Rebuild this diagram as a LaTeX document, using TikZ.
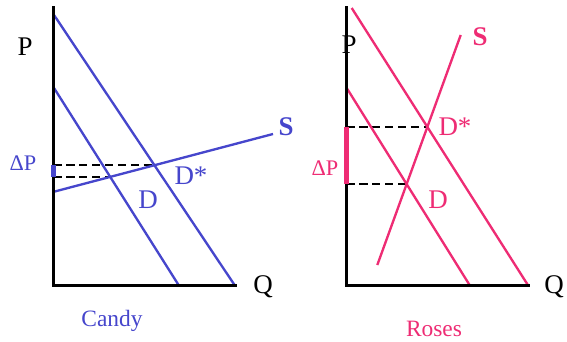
\documentclass[tikz,border=0pt]{standalone}
\usepackage{fontspec}
\setmainfont{Liberation Serif}
\usepackage{tikz}
\usetikzlibrary{
    calc
}
\definecolor{candyblue}{HTML}{4646CC}
\definecolor{rosepink}{HTML}{EE2C74}
\tikzset{
    axis line/.style={
        line width=2.6pt, black, line cap=rect
    },
    curve/.style={
        line width=2pt, color=#1
    },
    curve/.default={black},
    level line/.style={
        line width=2pt, black, dash pattern=on 7pt off 4pt
    },
    delta bar/.style={
        line width=4pt, color=#1
    },
    axis label/.style={
        font=\fontsize{23}{25}\selectfont, text=black, inner sep=0pt
    },
    curve label/.style={
        font=\fontsize{23}{25}\selectfont, text=#1, inner sep=0pt
    },
    delta label/.style={
        font=\fontsize{19}{21}\selectfont, text=#1, inner sep=0pt
    },
}
\begin{document}
\begin{tikzpicture}[x=0.03cm, y=-0.03cm]
    \useasboundingbox (0,0) rectangle (567,342);

    % Candy: flat supply
    \coordinate (cO) at (53.5,285.7);
    \coordinate (cTop) at (53.5,8);
    \coordinate (cEnd) at (235,285.7);
    \coordinate (cDsA) at (54,15);
    \coordinate (cDsB) at (235,285.7);
    \coordinate (cDA) at (54,88);
    \coordinate (cDB) at (179,285.7);
    \coordinate (cSA) at (54,191.7);
    \coordinate (cSB) at (273,134);
    \coordinate (cHi) at (intersection of cDsA--cDsB and cSA--cSB);
    \coordinate (cLo) at (intersection of cDA--cDB and cSA--cSB);

    \draw[level line] (cO |- cHi) -- (cHi);
    \draw[level line] (cO |- cLo) -- (cLo);
    \draw[curve=candyblue] (cDsA) -- (cDsB);
    \draw[curve=candyblue] (cDA) -- (cDB);
    \draw[curve=candyblue] (cSA) -- (cSB);
    \draw[axis line] (cTop) -- (cO) -- (cEnd);
    \draw[delta bar=candyblue] (cO |- cHi) -- (cO |- cLo);

    \node[axis label] (cP) at (25,47) {P};
    \node[axis label] (cQ) at (263,287) {Q};
    \node[delta label=candyblue] (cdP) at (23,163) {ΔP};
    \node[curve label=candyblue, font=\fontsize{23}{25}\selectfont\bfseries] (cS) at (286,127) {S};
    \node[curve label=candyblue] (cDs) at (191,176) {D*};
    \node[curve label=candyblue] (cD) at (148,200) {D};
    \node[curve label=candyblue, font=\fontsize{20}{22}\selectfont] (cName) at (112,321) {Candy};

    % Roses: steep supply
    \coordinate (rO) at (346.5,285.7);
    \coordinate (rTop) at (346.5,8);
    \coordinate (rEnd) at (528.3,285.7);
    \coordinate (rDsA) at (351.7,8);
    \coordinate (rDsB) at (528.3,285.7);
    \coordinate (rDA) at (346.7,88);
    \coordinate (rDB) at (470,285.7);
    \coordinate (rSA) at (377.3,265);
    \coordinate (rSB) at (460.7,35);
    \coordinate (rHi) at (intersection of rDsA--rDsB and rSA--rSB);
    \coordinate (rLo) at (intersection of rDA--rDB and rSA--rSB);

    \draw[level line] (rO |- rHi) -- (rHi);
    \draw[level line] (rO |- rLo) -- (rLo);
    \draw[curve=rosepink] (rDsA) -- (rDsB);
    \draw[curve=rosepink] (rDA) -- (rDB);
    \draw[curve=rosepink] (rSA) -- (rSB);
    \draw[axis line] (rTop) -- (rO) -- (rEnd);
    \draw[delta bar=rosepink] (rO |- rHi) -- (rO |- rLo);

    \node[axis label] (rP) at (349,45) {P};
    \node[axis label] (rQ) at (554,287) {Q};
    \node[delta label=rosepink] (rdP) at (325,168) {ΔP};
    \node[curve label=rosepink, font=\fontsize{23}{25}\selectfont\bfseries] (rS) at (480,37) {S};
    \node[curve label=rosepink] (rDs) at (455,127) {D*};
    \node[curve label=rosepink] (rD) at (438,200) {D};
    \node[curve label=rosepink, font=\fontsize{20}{22}\selectfont] (rName) at (434,329) {Roses};
\end{tikzpicture}
\end{document}
